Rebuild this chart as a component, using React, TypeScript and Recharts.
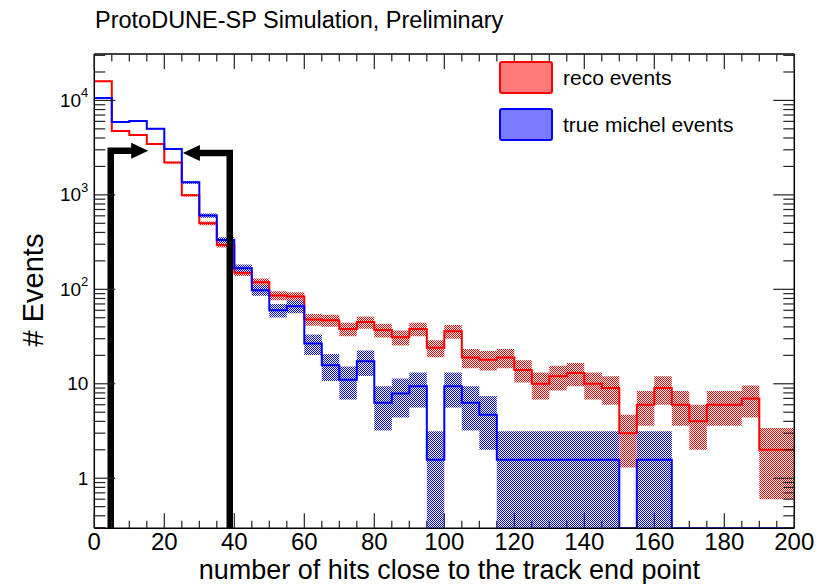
import React from "react";
import {
  ComposedChart,
  Line,
  Area,
  Scatter,
  XAxis,
  YAxis,
  Legend,
} from "recharts";

const FONT = '"Liberation Sans", Arial, Helvetica, sans-serif';

// low edge of each bin (5 hits wide), last edge closes the range
const binLow = [
  0, 5, 10, 15, 20, 25, 30, 35, 40, 45, 50, 55, 60, 65, 70, 75, 80, 85, 90, 95,
  100, 105, 110, 115, 120, 125, 130, 135, 140, 145, 150, 155, 160, 165, 170,
  175, 180, 185, 190, 195,
];
const binHigh = 200;

// reco events per bin
const recoCounts = [
  16000, 4740, 4300, 3460, 2200, 990, 500, 295, 150, 119, 86, 84, 48, 47, 38,
  45, 37, 31, 38, 24, 36, 19, 18, 19, 14, 10, 12, 13, 10, 9, 3, 6, 9, 6, 4, 6,
  6, 7, 2, 2,
];
const recoErr = [
  126, 69, 66, 59, 47, 31, 22, 17, 12, 11, 9.3, 9.2, 6.9, 6.9, 6.2, 6.7, 6.1,
  5.6, 6.2, 4.9, 6, 4.4, 4.2, 4.4, 3.7, 3.2, 3.5, 3.6, 3.2, 3, 1.7, 2.4, 3, 2.4,
  2, 2.4, 2.4, 2.6, 1.4, 1.4,
];

// true michel events per bin
const michelCounts = [
  10600, 5900, 6040, 5000, 3060, 1360, 605, 333, 167, 98, 60, 66, 26.7, 15.7,
  11, 17.3, 6.3, 7.9, 9.4, 1.57, 9.4, 6.3, 4.7, 1.57, 1.57, 1.57, 1.57, 1.57,
  1.57, 1.57, 0, 1.57, 1.57, 0, 0, 0, 0, 0, 0, 0,
];
const michelErr = [
  129, 96, 97, 89, 69, 46, 31, 23, 16, 12.4, 9.7, 10.2, 6.5, 5, 4.2, 5.2, 3.1,
  3.5, 3.8, 1.57, 3.8, 3.1, 2.7, 1.57, 1.57, 1.57, 1.57, 1.57, 1.57, 1.57, 0,
  1.57, 1.57, 0, 0, 0, 0, 0, 0, 0,
];

// axis ticks
const xTicks = [
  0, 5, 10, 15, 20, 25, 30, 35, 40, 45, 50, 55, 60, 65, 70, 75, 80, 85, 90, 95,
  100, 105, 110, 115, 120, 125, 130, 135, 140, 145, 150, 155, 160, 165, 170,
  175, 180, 185, 190, 195, 200,
];
const xLabels = [0, 20, 40, 60, 80, 100, 120, 140, 160, 180, 200];
const yMajor = [1, 10, 100, 1000, 10000];
const yMajorLabels = [
  ["1", ""],
  ["10", ""],
  ["10", "2"],
  ["10", "3"],
  ["10", "4"],
];
const yMinor = [
  0.3, 0.4, 0.5, 0.6, 0.7, 0.8, 0.9, 2, 3, 4, 5, 6, 7, 8, 9, 20, 30, 40, 50, 60,
  70, 80, 90, 200, 300, 400, 500, 600, 700, 800, 900, 2000, 3000, 4000, 5000,
  6000, 7000, 8000, 9000, 20000, 30000,
];
const yMin = 0.295;
const yMax = 31000;

// selection cuts drawn as arrows
const cutLowPath = [
  { x: 4.7, y: yMin },
  { x: 4.7, y: 2930 },
  { x: 10.7, y: 2930 },
];
const cutHighPath = [
  { x: 38.7, y: yMin },
  { x: 38.7, y: 2770 },
  { x: 29.8, y: 2770 },
];
const arrowTips = [
  { x: 15.4, y: 2930, dir: 1 },
  { x: 25.3, y: 2770, dir: -1 },
];

const legendItems = [
  { label: "reco events", color: "#ff0000", light: "#ff7a7a" },
  { label: "true michel events", color: "#0000ff", light: "#7a7aff" },
];

const floorY = (v: number) => Math.max(v, yMin);

const hist = [...binLow, binHigh].map((x, i) => {
  const j = Math.min(i, binLow.length - 1);
  return {
    x,
    reco: floorY(recoCounts[j]),
    recoBand: [
      floorY(recoCounts[j] - recoErr[j]),
      floorY(recoCounts[j] + recoErr[j]),
    ],
    michel: floorY(michelCounts[j]),
    michelBand: [
      floorY(michelCounts[j] - michelErr[j]),
      floorY(michelCounts[j] + michelErr[j]),
    ],
  };
});

const TICK = "#222";

const Checker = ({ id, color }: { id: string; color: string }) => (
  <pattern id={id} width={2} height={2} patternUnits="userSpaceOnUse">
    <rect x={0} y={0} width={1} height={1} fill={color} />
    <rect x={1} y={1} width={1} height={1} fill={color} />
  </pattern>
);

const LeftTick = (props: any) => {
  const { x, y, payload } = props;
  const i = yMajor.indexOf(payload.value);
  const major = i >= 0;
  return (
    <g>
      <line x1={x} x2={x + (major ? 21 : 11)} y1={y} y2={y} stroke={TICK} strokeWidth={1.2} />
      {major && (
        <text
          x={x - 6}
          y={y}
          textAnchor="end"
          dominantBaseline="central"
          fontSize={19}
          fontFamily={FONT}
          fill="#000"
        >
          {yMajorLabels[i][0]}
          {yMajorLabels[i][1] && (
            <tspan dy={-8} fontSize={13}>
              {yMajorLabels[i][1]}
            </tspan>
          )}
        </text>
      )}
    </g>
  );
};

const RightTick = (props: any) => {
  const { x, y, payload } = props;
  const major = yMajor.includes(payload.value);
  return <line x1={x} x2={x - (major ? 21 : 11)} y1={y} y2={y} stroke={TICK} strokeWidth={1.2} />;
};

const BottomTick = (props: any) => {
  const { x, y, payload } = props;
  const major = xLabels.includes(payload.value);
  return (
    <g>
      <line x1={x} x2={x} y1={y} y2={y - (major ? 15 : 7.5)} stroke={TICK} strokeWidth={1.2} />
      {major && (
        <text x={x} y={y + 21.5} textAnchor="middle" fontSize={24} fontFamily={FONT} fill="#000">
          {payload.value}
        </text>
      )}
    </g>
  );
};

const TopTick = (props: any) => {
  const { x, y, payload } = props;
  const major = xLabels.includes(payload.value);
  return <line x1={x} x2={x} y1={y} y2={y + (major ? 15 : 7.5)} stroke={TICK} strokeWidth={1.2} />;
};

const ArrowHead = (props: any) => {
  const { cx, cy, payload } = props;
  const d = payload.dir;
  return (
    <polygon
      points={`${cx},${cy} ${cx - d * 17},${cy - 8} ${cx - d * 17},${cy + 8}`}
      fill="#000"
    />
  );
};

const renderLegend = () => (
  <div style={{ fontFamily: FONT, fontSize: 21, color: "#000" }}>
    {legendItems.map((it) => (
      <div key={it.label} style={{ display: "flex", alignItems: "center", height: 33, marginBottom: 14 }}>
        <svg width={54} height={33} style={{ display: "block" }}>
          <rect
            x={1}
            y={1}
            width={52}
            height={31}
            rx={2}
            fill={it.light}
            stroke={it.color}
            strokeWidth={2}
          />
        </svg>
        <span style={{ marginLeft: 10 }}>{it.label}</span>
      </div>
    ))}
  </div>
);

export default function App() {
  return (
    <div
      style={{
        position: "absolute",
        left: 0,
        top: 0,
        width: 831,
        height: 584,
        background: "#fff",
        fontFamily: FONT,
      }}
    >
      <ComposedChart
        width={831}
        height={584}
        margin={{ top: 44, right: 26.7, bottom: 25.7, left: 34.3 }}
      >
        <defs>
          <Checker id="hatchRed" color="#ff0000" />
          <Checker id="hatchBlue" color="#0000ff" />
        </defs>

        <XAxis
          xAxisId="B"
          dataKey="x"
          type="number"
          domain={[0, 200]}
          allowDataOverflow
          ticks={xTicks}
          interval={0}
          height={30}
          tickSize={0}
          tickMargin={0}
          tickLine={false}
          tick={<BottomTick />}
          axisLine={{ stroke: "#000", strokeWidth: 1.5 }}
        />
        <XAxis
          xAxisId="T"
          dataKey="x"
          orientation="top"
          type="number"
          domain={[0, 200]}
          allowDataOverflow
          ticks={xTicks}
          interval={0}
          height={10}
          tickSize={0}
          tickMargin={0}
          tickLine={false}
          tick={<TopTick />}
          axisLine={{ stroke: "#000", strokeWidth: 1.5 }}
        />
        <YAxis
          yAxisId="L"
          type="number"
          scale="log"
          domain={[yMin, yMax]}
          allowDataOverflow
          ticks={[...yMinor, ...yMajor]}
          interval={0}
          width={60}
          tickSize={0}
          tickMargin={0}
          tickLine={false}
          tick={<LeftTick />}
          axisLine={{ stroke: "#000", strokeWidth: 1.5 }}
        />
        <YAxis
          yAxisId="R"
          orientation="right"
          type="number"
          scale="log"
          domain={[yMin, yMax]}
          allowDataOverflow
          ticks={[...yMinor, ...yMajor]}
          interval={0}
          width={10}
          tickSize={0}
          tickMargin={0}
          tickLine={false}
          tick={<RightTick />}
          axisLine={{ stroke: "#000", strokeWidth: 1.5 }}
        />

        <Area
          xAxisId="B"
          yAxisId="L"
          data={hist}
          dataKey="recoBand"
          type="stepAfter"
          stroke="none"
          fill="url(#hatchRed)"
          fillOpacity={1}
          isAnimationActive={false}
        />
        <Area
          xAxisId="B"
          yAxisId="L"
          data={hist}
          dataKey="michelBand"
          type="stepAfter"
          stroke="none"
          fill="url(#hatchBlue)"
          fillOpacity={1}
          isAnimationActive={false}
        />
        <Line
          xAxisId="B"
          yAxisId="L"
          data={hist}
          dataKey="reco"
          type="stepAfter"
          stroke="#ff0000"
          strokeWidth={2}
          dot={false}
          activeDot={false}
          isAnimationActive={false}
        />
        <Line
          xAxisId="B"
          yAxisId="L"
          data={hist}
          dataKey="michel"
          type="stepAfter"
          stroke="#0000ff"
          strokeWidth={2}
          dot={false}
          activeDot={false}
          isAnimationActive={false}
        />
        <Line
          xAxisId="B"
          yAxisId="L"
          data={cutLowPath}
          dataKey="y"
          type="linear"
          stroke="#000"
          strokeWidth={6.5}
          strokeLinejoin="miter"
          dot={false}
          activeDot={false}
          isAnimationActive={false}
        />
        <Line
          xAxisId="B"
          yAxisId="L"
          data={cutHighPath}
          dataKey="y"
          type="linear"
          stroke="#000"
          strokeWidth={6.5}
          strokeLinejoin="miter"
          dot={false}
          activeDot={false}
          isAnimationActive={false}
        />
        <Scatter
          xAxisId="B"
          yAxisId="L"
          data={arrowTips}
          dataKey="y"
          shape={<ArrowHead />}
          isAnimationActive={false}
        />

        <Legend
          layout="vertical"
          align="center"
          verticalAlign="middle"
          content={renderLegend}
          wrapperStyle={{ left: 499, top: 61, width: 300, height: 90 }}
        />
      </ComposedChart>

      <div
        style={{
          position: "absolute",
          left: 95,
          top: 9,
          fontSize: 23.5,
          lineHeight: 1,
          whiteSpace: "nowrap",
          color: "#000",
        }}
      >
        ProtoDUNE-SP Simulation, Preliminary
      </div>
      <div
        style={{
          position: "absolute",
          left: 33,
          top: 290,
          fontSize: 29,
          lineHeight: 1,
          whiteSpace: "nowrap",
          transform: "translate(-50%, -50%) rotate(-90deg)",
          color: "#000",
        }}
      >
        # Events
      </div>
      <div
        style={{
          position: "absolute",
          right: 131,
          top: 556.6,
          fontSize: 27,
          lineHeight: 1,
          whiteSpace: "nowrap",
          color: "#000",
        }}
      >
        number of hits close to the track end point
      </div>
    </div>
  );
}
